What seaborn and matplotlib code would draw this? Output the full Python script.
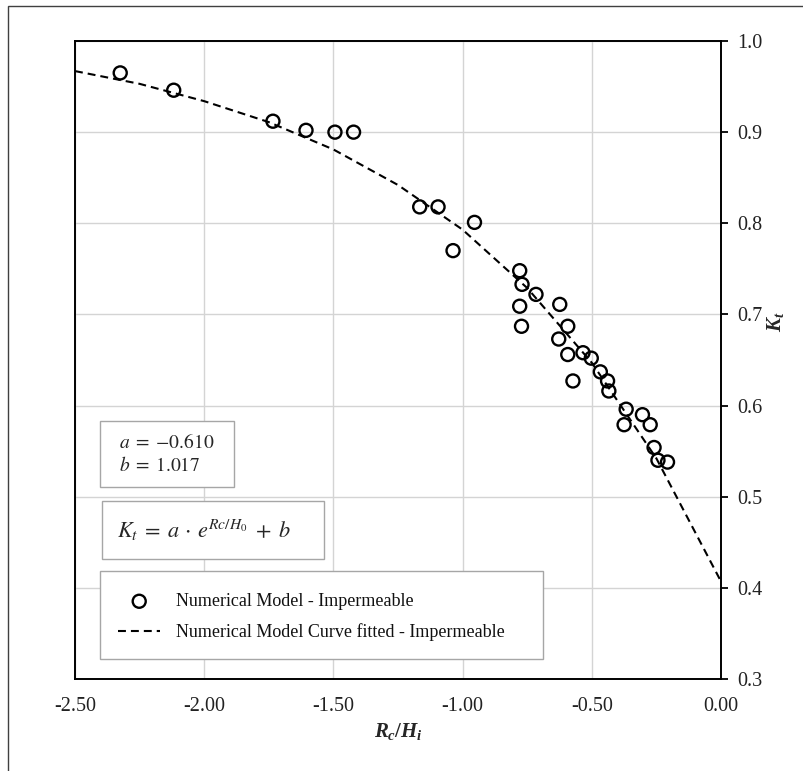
import numpy as np
import pandas as pd
import matplotlib
matplotlib.use("Agg")
import matplotlib.pyplot as plt
from matplotlib.patches import Rectangle
import seaborn as sns

# ---------------- data ----------------
rc_hi = [-2.325, -2.118, -1.734, -1.606, -1.494, -1.422, -1.166, -1.095, -0.954, -1.037,
         -0.779, -0.770, -0.716, -0.624, -0.779, -0.772, -0.593, -0.628, -0.593, -0.534,
         -0.502, -0.467, -0.439, -0.434, -0.573, -0.367, -0.375, -0.304, -0.274, -0.259,
         -0.244, -0.207]
kt = [0.965, 0.946, 0.912, 0.902, 0.900, 0.900, 0.818, 0.818, 0.801, 0.770,
      0.748, 0.733, 0.722, 0.711, 0.709, 0.687, 0.687, 0.673, 0.656, 0.658,
      0.652, 0.637, 0.627, 0.616, 0.627, 0.596, 0.579, 0.590, 0.579, 0.554,
      0.540, 0.538]

# fitted curve (Kt = a*e^(Rc/H0) + b, a=-0.610, b=1.017)
curve_x = [-2.50, -2.25, -2.00, -1.75, -1.50, -1.25, -1.00, -0.75, -0.50, -0.25, 0.00]
curve_y = [0.967, 0.953, 0.934, 0.911, 0.881, 0.842, 0.793, 0.729, 0.647, 0.542, 0.407]

x_ticks = [-2.5, -2.0, -1.5, -1.0, -0.5, 0.0]
x_ticklabels = ["-2.50", "-2.00", "-1.50", "-1.00", "-0.50", "0.00"]
y_ticks = [0.3, 0.4, 0.5, 0.6, 0.7, 0.8, 0.9, 1.0]
y_ticklabels = ["0.3", "0.4", "0.5", "0.6", "0.7", "0.8", "0.9", "1.0"]

coef_a = "-0.610"
coef_b = "1.017"
label_points = "Numerical Model - Impermeable"
label_curve = "Numerical Model Curve fitted - Impermeable"

# ---------------- style ----------------
sns.set_theme(style="white")
plt.rcParams["font.family"] = ["Liberation Serif", "DejaVu Serif"]
plt.rcParams["axes.unicode_minus"] = False
plt.rcParams["mathtext.fontset"] = "custom"
plt.rcParams["mathtext.it"] = "Liberation Serif:italic:bold"
plt.rcParams["mathtext.rm"] = "Liberation Serif:bold"
plt.rcParams["mathtext.bf"] = "Liberation Serif:bold"

W, H = 804, 771
fig = plt.figure(figsize=(W / 100, H / 100), dpi=100)

def fx(px):
    return px / W

def fy(py):
    return 1 - py / H

ax_l, ax_r, ax_t, ax_b = 75, 721, 41, 679
ax = fig.add_axes([fx(ax_l), fy(ax_b), (ax_r - ax_l) / W, (ax_b - ax_t) / H])

df_pts = pd.DataFrame({"x": rc_hi, "y": kt})
df_curve = pd.DataFrame({"x": curve_x, "y": curve_y})

sns.lineplot(data=df_curve, x="x", y="y", ax=ax, color="black", lw=1.5,
             linestyle=(0, (3.8, 2.4)), label=label_curve, zorder=2, sort=True)
sns.scatterplot(data=df_pts, x="x", y="y", ax=ax, s=88, facecolor="none",
                edgecolor="black", linewidth=1.7, label=label_points, zorder=3)

ax.set_xlim(-2.5, 0.0)
ax.set_ylim(0.3, 1.0)
ax.set_xticks(x_ticks)
ax.set_xticklabels(x_ticklabels)
ax.set_yticks(y_ticks)
ax.set_yticklabels(y_ticklabels)
ax.yaxis.tick_right()
ax.tick_params(axis="x", length=0, pad=13, labelsize=14.5, colors="#222222")
ax.tick_params(axis="y", length=5, width=1.3, pad=7, labelsize=14.5, colors="black",
               labelcolor="#222222", direction="out", right=True, left=False)
ax.grid(True, color="#d4d4d4", lw=1.0)
ax.set_axisbelow(True)
for s in ax.spines.values():
    s.set_color("black")
    s.set_linewidth(1.4)

ax.set_xlabel(r"$R_c/H_i$", fontsize=15, math_fontfamily="custom")
ax.xaxis.label.set_va("center")
ax.xaxis.set_label_coords(0.5, (ax_b - 732) / (ax_b - ax_t))
ax.yaxis.set_label_position("right")
ax.set_ylabel(r"$K_t$", fontsize=15, math_fontfamily="custom", rotation=90)
ax.yaxis.label.set_va("center")
ax.yaxis.set_label_coords((776 - ax_l) / (ax_r - ax_l), (ax_b - 322) / (ax_b - ax_t))

# ---------------- boxes ----------------
box_ec = "#a6a6a6"
def add_box(x0, y0, x1, y1):
    r = Rectangle((fx(x0), fy(y1)), (x1 - x0) / W, (y1 - y0) / H, transform=fig.transFigure,
                  facecolor="white", edgecolor=box_ec, lw=1.0, zorder=4, clip_on=False)
    ax.add_patch(r)

add_box(100, 421, 234, 487)
add_box(102, 501, 324, 559)
add_box(100, 571, 543, 659)

ax.text(fx(119), fy(443), r"$a\;=\;{" + coef_a + "}$", transform=fig.transFigure, fontsize=14,
        math_fontfamily="stix", va="center", ha="left", zorder=5)
ax.text(fx(119), fy(466), r"$b\;=\;{" + coef_b + "}$", transform=fig.transFigure, fontsize=14,
        math_fontfamily="stix", va="center", ha="left", zorder=5)
ax.text(fx(117), fy(530), r"$K_t\;=\;a\,\cdot\,e^{Rc/H_0}\;+\;b$", transform=fig.transFigure,
        fontsize=16, math_fontfamily="stix", va="center", ha="left", zorder=5)

# ---------------- legend ----------------
handles, labels = ax.get_legend_handles_labels()
order = [labels.index(label_points), labels.index(label_curve)]
leg = ax.legend([handles[i] for i in order], [labels[i] for i in order],
                loc="upper left", bbox_to_anchor=(fx(118), fy(593)),
                bbox_transform=fig.transFigure, frameon=False, fontsize=13,
                handlelength=2.35, handletextpad=0.85, borderpad=0, borderaxespad=0,
                labelspacing=0.75)
leg.set_zorder(6)
for t in leg.get_texts():
    t.set_color("#111111")

# ---------------- outer border ----------------
fig.add_artist(Rectangle((fx(8), fy(H + 20)), (W + 20) / W, (H + 14) / H,
                         transform=fig.transFigure, facecolor="none",
                         edgecolor="#404040", lw=1.0, clip_on=False))

fig.savefig("out.png", dpi=100)
